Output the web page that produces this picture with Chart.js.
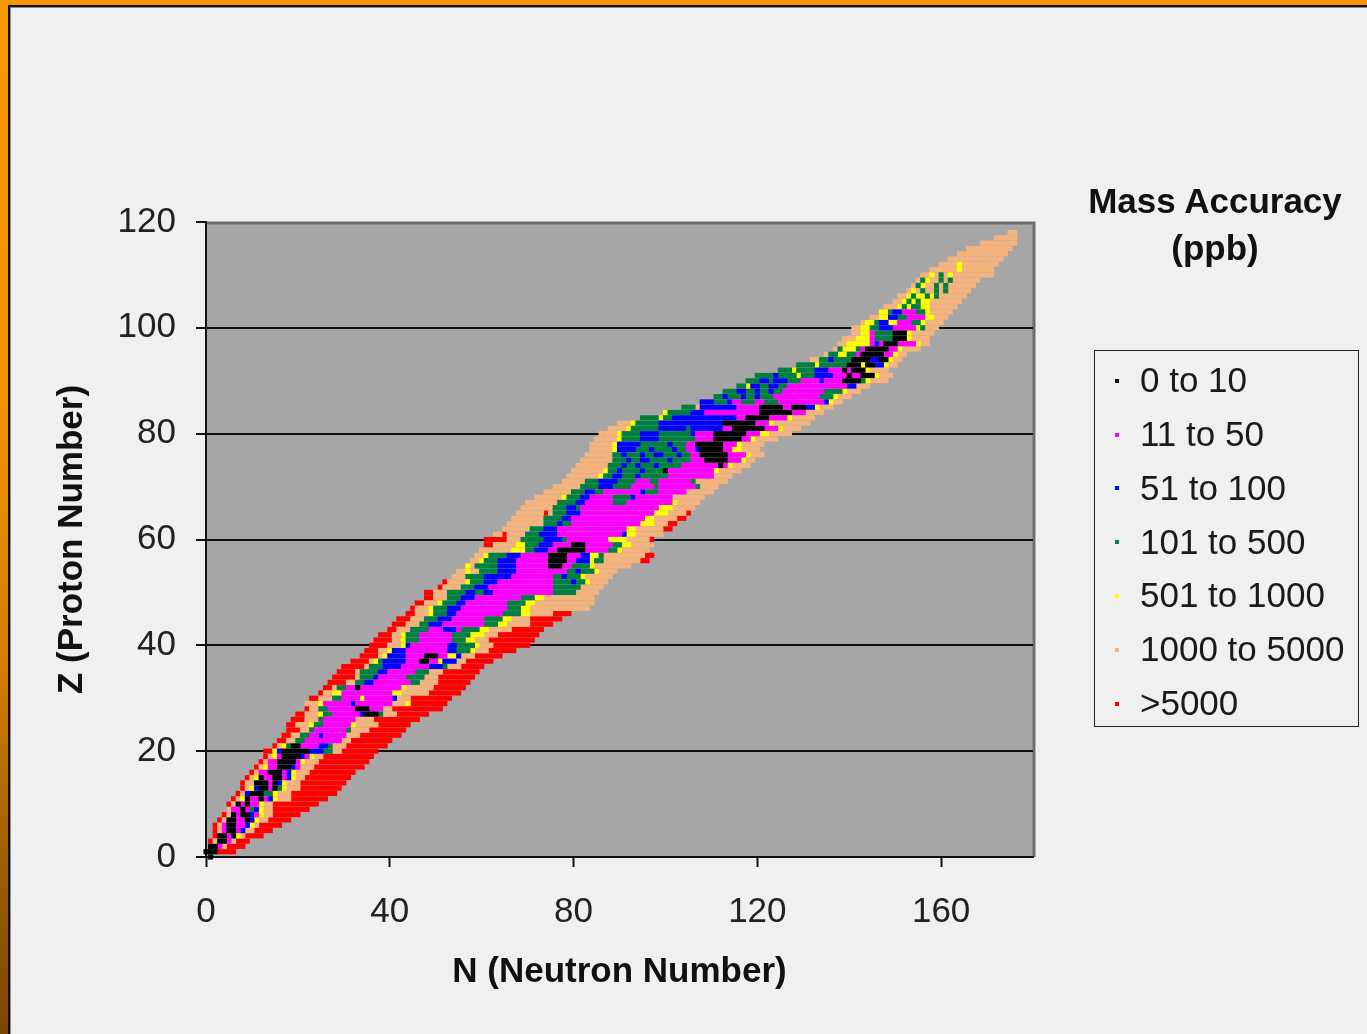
<!DOCTYPE html>
<html>
<head>
<meta charset="utf-8">
<script src="https://cdn.jsdelivr.net/npm/chart.js@4.4.1/dist/chart.umd.min.js"></script>
<style>
html,body{margin:0;padding:0;}
body{width:1367px;height:1034px;overflow:hidden;position:relative;
  background:linear-gradient(to bottom,#f59700 0%,#f09100 40%,#d27c00 65%,#9a5c00 85%,#7a4700 100%);
  font-family:"Liberation Sans",Arial,sans-serif;}
#frame{position:absolute;left:8px;top:5px;right:0;bottom:0;background:#f0f0f0;
  border-left:2px solid #111;border-top:2px solid #111;box-shadow:inset 1px 1px 0 #8a8a8a;}
#chart{position:absolute;left:0;top:0;}
#ltitle{position:absolute;left:1060px;width:310px;top:177px;text-align:center;font-weight:bold;
  font-size:35px;line-height:47px;color:#111;}
#legend{position:absolute;left:1094px;top:350px;width:263px;height:375px;border:1px solid #222;}
.item{position:absolute;left:20px;font-size:35px;line-height:40px;height:40px;color:#1a1a1a;white-space:nowrap;}
.item i{display:inline-block;width:4px;height:4px;margin-right:21px;vertical-align:middle;position:relative;top:-2px;}
</style>
</head>
<body>
<div id="frame"></div>
<canvas id="chart" width="1367" height="1034"></canvas>
<div id="ltitle">Mass Accuracy<br>(ppb)</div>
<div id="legend"></div>
<script>
// ---- data ----
const seriesLabels = ['0 to 10','11 to 50','51 to 100','101 to 500','501 to 1000','1000 to 5000','>5000'];
const seriesKeys   = ['K','M','B','G','Y','O','R'];
const xTickValues  = [0,40,80,120,160];
const yTickValues  = [0,20,40,60,80,100,120];
const xTitle = 'N (Neutron Number)';
const yTitle = 'Z (Proton Number)';

// proton number of each row of the chart
const rowZ = [
  0,1,2,3,4,5,6,7,8,9,
  10,11,12,13,14,15,16,17,18,19,
  20,21,22,23,24,25,26,27,28,29,
  30,31,32,33,34,35,36,37,38,39,
  40,41,42,43,44,45,46,47,48,49,
  50,51,52,53,54,55,56,57,58,59,
  60,61,62,63,64,65,66,67,68,69,
  70,71,72,73,74,75,76,77,78,79,
  80,81,82,83,84,85,86,87,88,89,
  90,91,92,93,94,95,96,97,98,99,
  100,101,102,103,104,105,106,107,108,109,
  110,111,112,113,114,115,116,117,118
];
// first neutron number in each row
const rowFirstN = [
  1,0,1,1,2,2,2,3,4,5,
  5,6,7,8,8,9,10,11,12,13,
  13,15,16,17,18,18,19,20,22,22,
  23,25,26,27,28,29,30,32,34,35,
  36,37,38,40,41,42,44,45,46,48,
  48,51,52,54,55,57,58,59,60,61,
  61,63,65,66,67,68,69,70,72,74,
  76,78,79,80,81,82,83,84,84,85,
  86,88,90,95,100,104,108,111,113,116,
  118,120,125,129,132,135,137,138,139,141,
  141,143,145,147,148,150,151,153,154,155,
  156,158,160,162,164,166,169,172,175
];
// accuracy class of consecutive nuclides along each row (class letter + count)
const rowRuns = [
  'K1','K3R4','K2M1O1R4','R1O1K2M1O1R3','R1K2M1K1Y1O1R4',
  'R1O1M1K2M1B1O2R4','R1O1M1K2M2B1Y1O1R5','R1O1K2M2K1B1Y1O2R5','R1O1K1M1K2B1M1Y1O2R6','O1M2K1M1G1B1Y1O2R8',
  'R1O1K1M1K1M2Y1O2R10','R1O1Y1K1M2K1M1B1Y1O3R8','R1O1B1K3G2Y1O3R10','R1O1Y1B1K2M1K1G1Y1O3R9','R1O2K3M1K1B1Y1O3R10',
  'R1O1Y1K1M2K2M1B1Y1O2R10','R1O1M2K3M1B1Y1O3R10','R1O1Y1M2K3B1M1O3R11','R1O1M2K4M1Y1O3R11','R1O1Y1M1K4B1M1Y1O2R11',
  'R2Y1B1K6B3G2O2R8','R1O1Y1G1K2M4B2G1O3R9','R2O2G2M8O2R9','R2O2G2M2B1M5O3R9','R3O2G1M7G1O4R8',
  'R2O3Y1G2M6Y1O5R7','R3O3G1M7O4R10','R2O3Y1G2M6B1K3G1O3R7','R1O2G2M6K3M3O2R11','O3Y1M6B1M8O3Y1R8',
  'R2O3G2M4Y1M6B1O3R9','R1O2Y2M11Y2O6R7','R2O1G2M2K1M9Y1O6R7','R4O2G2B2M8G2O4R7','R5O1G3B1M6G4O3R8',
  'R4O1G4B2M6G3O3R8','R5O1G3B4M6B3G1O3R5','R4O1Y1G1B5M3K2M2Y1B3O2R6','R4O1Y1B4M4K3M2Y2B1O3R6','R3O2Y1B3M9B2G3Y1O3R6',
  'R4O3Y1B1M8B2G4Y1O3R8','R4O2Y1G3M7G3Y2O3R10','R3O2Y1G3M7G4Y3O3R9','R2O3G4M3B3M1G4Y2O5R7','R3O3G2B3M9G3Y2O5R5',
  'R3O3G3B3M7G4Y2O4R7','R2O3Y1G3B2M10G4Y2O5R4','R1O3Y1G3B3M10G3Y2O13','R2O3Y1G3B2M9G4Y2O13','R2O3G3B3M10G3Y2O11',
  'R2O3G4B2G2B2M13G5O5','R1O4G3B3M14G6O5','R1O4Y1G3B3M12G4B1G2Y1O4','O3G4B6M9G2B1G3Y1O6','O2Y1O2G4B4M11G2B1G3Y1O4',
  'Y1O1G5B4M7K3M2G4Y1O8','O2Y1G3B4M7K4M2B3Y1G2O8R2','O2Y1G4B3M6K4M3B2Y2G1O9R2','O7Y3G2B3M2K6M5G2Y1O6','R2O5Y2G3B3M4K3M6G2Y2O5',
  'R5O3G5B4G1M9Y4O5R1','O2R1O4G3B4M14B1Y2O6','O6G3B3M15Y2O6R2','O8G3B1G2M15Y3O3R2','O7G4B2M16Y2O5R2',
  'O6R1O1G3B3M16Y3O4R1','O7G3B2G1M17Y3O5','O7G4B2M6G3M10Y1O5','O6Y1G3B2M5G4B1M8O7','O6G3B2G2M8B1G3M6O6',
  'O6G4B3G4M5G1M8G1O4','O5G3B4G4M3G2M7G1O7','O7Y1G2B2G3B1G6M10O4','O7Y1G2B1G4B1G4K1M10Y1O5','O7G3B1G2B1G3B1G5M8K1M1Y1O4',
  'O7G3B1G2B2G4B1G4M3K5M3Y1O2','O6G2B1G3B1G2B2G3B1G2M2K6M4Y1O3','O5Y1B4G3B1G4B1G2M2B1K5M2Y2O4','O5Y1B5G6B1G3M2K6M3Y1O5','O5Y1G4B4G8M4K6M2Y1O5',
  'O4Y1G4B4G7B1M4K7M3Y2O5','O4Y1G6B6G1B7M2K7M3Y1O4','O3Y1G5B14K7M3Y1O8','G4Y1G2B14M2K5M4Y1O5','Y1G5B3M12K7M3O4',
  'G3O1B8M5K5M2K3B2Y1O3','B3G3B1M2G3M2G3M10B1Y1O2','G2B1G3B1G2B1G3M10G3Y1O3','G3B2G2B1G2B1G2M9G4Y1O3','G2Y1B2G2B2G2M13B2O3',
  'G3B2G1B3G3M4B1M4K4G1Y1O4','G4B1G4Y1G3B4M3K1M2K3Y1O3','G3Y1G4B3M3K1M1K3Y1O4','G4Y1G6K3Y1K2B2Y1O2','O2G2B1G4K4B2K2Y1O2',
  'O1G2Y2G2M1K5M2Y1O2','O1G1Y3G1M1K5M2Y1O4','O2Y5M1B1M1K3M4Y1O2','O3Y3M1G4K3Y1O4','O2Y2M1G4K3Y1O5',
  'O2Y2G2B3M5Y1G1O3','O1Y2G1B2Y2M3G2Y1O4','O2Y2B2G2M4Y2O3','Y2G1B2M3G2Y1O5','O3Y1G1Y1G2Y2O6',
  'O2Y1G1Y1G1Y2O7','O2Y1G1Y2G1Y1G1O6','O1Y1O1G1O2G1O1G1O5','O1G1Y1O2G1O1G1O6','O1G1Y1O2G1O1G1O6',
  'O2Y1O1G1O1Y1O9','O6Y1O7','O4Y1O8','O12','O11',
  'O10','O8','O5','O2'
];

// ---- styles ----
const seriesColors = ['#000000','#ff00ff','#0000ff','#008040','#ffff00','#f5b47e','#ff0000'];
const FONT = '"Liberation Sans", Arial, sans-serif';

// build per-class point lists from the rows
const pointsByKey = {};
seriesKeys.forEach(k => pointsByKey[k] = []);
rowZ.forEach((z, i) => {
  let n = rowFirstN[i];
  rowRuns[i].replace(/([KMBGYOR])(\d+)/g, (m, code, cnt) => {
    for (let j = 0; j < +cnt; j++) { pointsByKey[code].push({x: n, y: z}); n++; }
    return m;
  });
});

const datasets = seriesKeys.map((k, i) => ({
  label: seriesLabels[i],
  data: pointsByKey[k],
  backgroundColor: seriesColors[i],
  borderWidth: 0,
  pointStyle: 'rect',
  pointRadius: 3.6,
  pointHoverRadius: 3.6,
  clip: false
}));

const bgPlugin = {
  id: 'plotBg',
  beforeDraw(c) {
    const {ctx, chartArea: a} = c;
    ctx.save();
    ctx.fillStyle = '#a6a6a6';
    ctx.fillRect(a.left, a.top, a.right - a.left, a.bottom - a.top);
    ctx.strokeStyle = '#6e6e6e';
    ctx.lineWidth = 3;
    ctx.beginPath();
    ctx.moveTo(a.left, a.top + 1);
    ctx.lineTo(a.right + 1, a.top + 1);
    ctx.lineTo(a.right + 1, a.bottom);
    ctx.stroke();
    ctx.restore();
  }
};

Chart.defaults.font.family = FONT;

new Chart(document.getElementById('chart'), {
  type: 'scatter',
  data: {datasets},
  options: {
    responsive: false,
    animation: false,
    events: [],
    layout: {padding: {left: 0, top: 222, right: 334, bottom: 0}},
    plugins: {legend: {display: false}, tooltip: {enabled: false}},
    scales: {
      x: {
        type: 'linear', min: 0, max: 180,
        afterFit(s) { s.height = 177; },
        afterBuildTicks(s) { s.ticks = xTickValues.map(v => ({value: v})); },
        ticks: {color: '#222', font: {size: 35}, padding: 24, maxRotation: 0, autoSkip: false},
        grid: {drawOnChartArea: false, drawTicks: true, tickLength: 10, tickWidth: 2, tickColor: '#111', color: '#111'},
        border: {display: true, color: '#111', width: 2},
        title: {display: true, text: xTitle, color: '#111', font: {size: 35, weight: 'bold'}, padding: {top: 0, bottom: 41}}
      },
      y: {
        type: 'linear', min: 0, max: 120,
        afterFit(s) { s.width = 206; },
        afterBuildTicks(s) { s.ticks = yTickValues.map(v => ({value: v})); },
        ticks: {color: '#222', font: {size: 35}, padding: 20, autoSkip: false},
        grid: {
          color: c => (c.tick && c.tick.value === 120) ? 'rgba(0,0,0,0)' : '#111',
          lineWidth: 2, drawTicks: true, tickLength: 10, tickWidth: 2, tickColor: '#111'
        },
        border: {display: true, color: '#111', width: 2},
        title: {display: true, text: yTitle, color: '#111', font: {size: 35, weight: 'bold'}, padding: {top: 51, bottom: 0}}
      }
    }
  },
  plugins: [bgPlugin]
});

// HTML legend built from the series arrays
const legend = document.getElementById('legend');
seriesLabels.forEach((lab, i) => {
  const d = document.createElement('div');
  d.className = 'item';
  d.style.top = (380 + i * 53.85 - 351 - 20) + 'px';
  const sw = document.createElement('i');
  sw.style.background = seriesColors[i];
  d.appendChild(sw);
  d.appendChild(document.createTextNode(lab));
  legend.appendChild(d);
});
</script>
</body>
</html>
